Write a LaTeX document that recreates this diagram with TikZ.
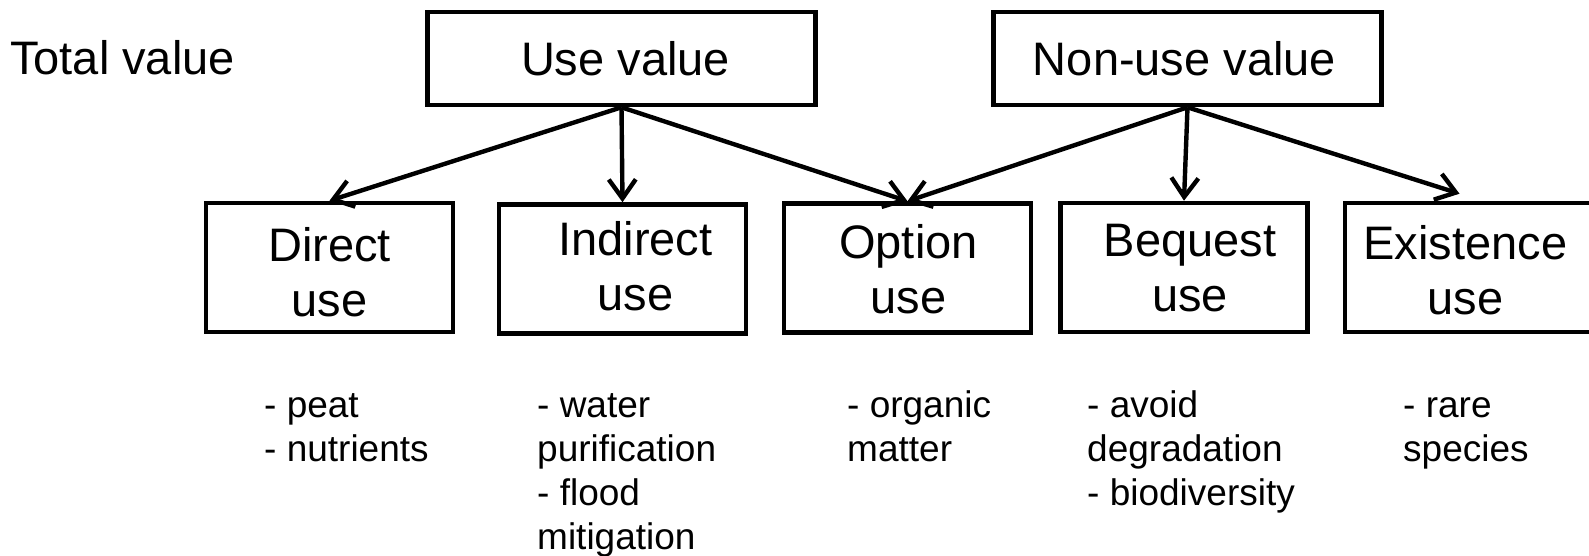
\documentclass[tikz,border=0pt]{standalone}
\usepackage{fontspec}
\setmainfont{Liberation Sans}
\usetikzlibrary{arrows.meta,calc}

\begin{document}
\begin{tikzpicture}[x=1pt,y=-1pt,
  frame/.style={draw, line width=4.6pt, inner sep=0pt},
  topbox/.style={frame, minimum width=388pt, minimum height=93pt},
  kindbox/.style={frame, minimum width=247pt, minimum height=129pt},
  boxtext/.style={inner sep=0pt, align=center, font=\fontsize{47}{55}\selectfont},
  notes/.style={anchor=north west, inner sep=0pt, align=left, font=\fontsize{37}{44}\selectfont},
  link/.style={line width=4.4pt, -{Straight Barb[length=19pt,width=27pt]}}
]
\useasboundingbox (0,0) rectangle (1589,555);

% heading on the left
\node[anchor=base west, inner sep=0pt, font=\fontsize{47}{55}\selectfont] (total) at (10,74) {Total value};

% top level
\node[topbox] (use) at (621.5,58.5) {};
\node[boxtext] (usetext) at ($(use)+(4,0)$) {Use value};
\node[topbox] (nonuse) at (1187.5,58.5) {};
\node[boxtext] (nonusetext) at ($(nonuse)+(-3,0)$) {Non-use value};

% second level
\node[kindbox] (direct) at (329.5,267.5) {};
\node[boxtext] (directtext) at ($(direct)+(0,5)$) {Direct\\use};
\node[kindbox] (indirect) at (622.5,269) {};
\node[boxtext] (indirecttext) at ($(indirect)+(13,-3)$) {Indirect\\use};
\node[kindbox] (option) at (907.5,268) {};
\node[boxtext] (optiontext) at ($(option)+(1,1)$) {Option\\use};
\node[kindbox] (bequest) at (1184,267.5) {};
\node[boxtext] (bequesttext) at ($(bequest)+(6,1)$) {Bequest\\use};
\node[kindbox] (exist) at (1468.5,267.5) {};
\node[boxtext] (existtext) at ($(exist)+(-3,3)$) {Existence\\use};

% connectors
\coordinate (existtip) at ($(exist.north)+(-9,-7)$);
\draw[link] (use.south) -- (direct.north);
\draw[link] (use.south) -- (indirect.north);
\draw[link] (use.south) -- (option.north);
\draw[link] (nonuse.south) -- (option.north);
\draw[link] (nonuse.south) -- (bequest.north);
\draw[link] (nonuse.south) -- (existtip);

% examples under each kind of value
\node[notes] (directnotes) at (264,386) {\strut- peat\\- nutrients};
\node[notes] (indirectnotes) at (537,386) {\strut- water\\purification\\- flood\\mitigation};
\node[notes] (optionnotes) at (847,386) {\strut- organic\\matter};
\node[notes] (bequestnotes) at (1087,386) {\strut- avoid\\degradation\\- biodiversity};
\node[notes] (existnotes) at (1403,386) {\strut- rare\\species};
\end{tikzpicture}
\end{document}
